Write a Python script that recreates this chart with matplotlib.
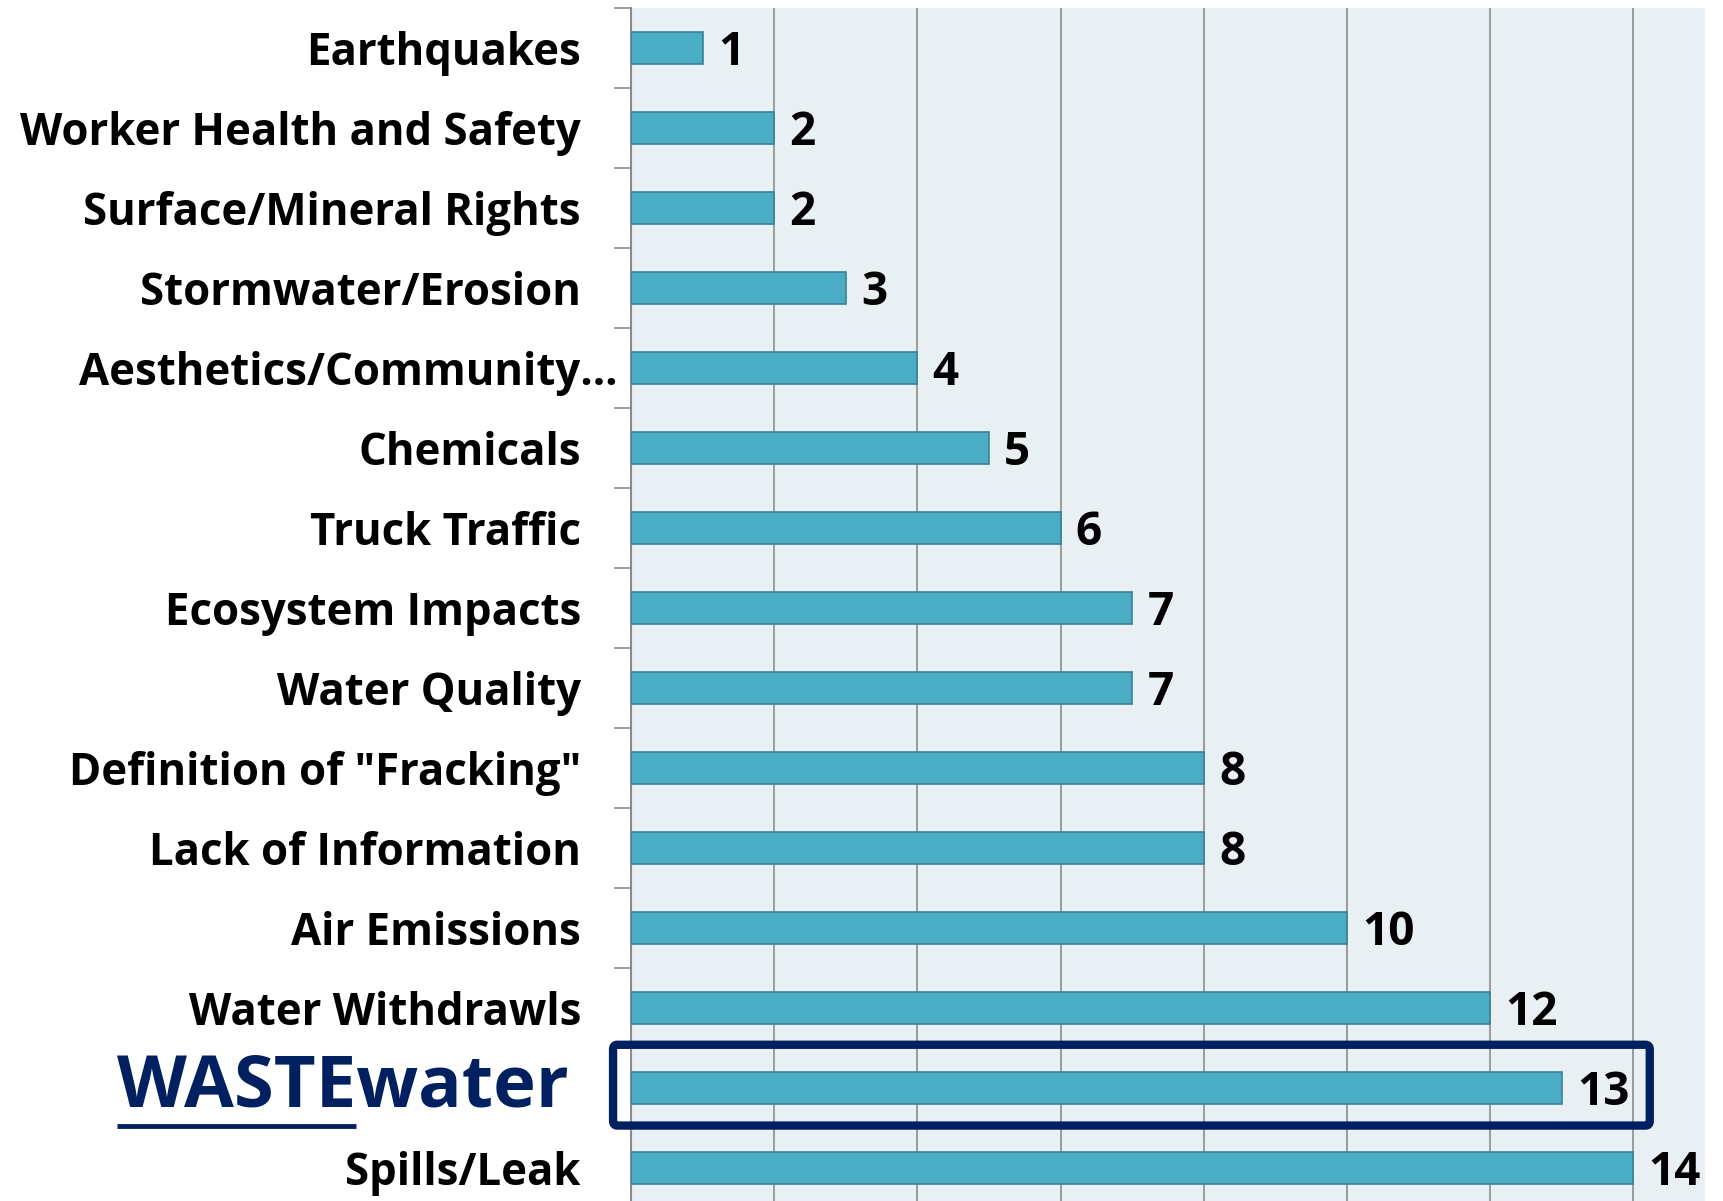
import matplotlib.pyplot as plt
from matplotlib.patches import FancyBboxPatch
from matplotlib.transforms import offset_copy

# data, top of chart first
categories = [
    "Earthquakes",
    "Worker Health and Safety",
    "Surface/Mineral Rights",
    "Stormwater/Erosion",
    "Aesthetics/Community\u2026",
    "Chemicals",
    "Truck Traffic",
    "Ecosystem Impacts",
    "Water Quality",
    'Definition of "Fracking"',
    "Lack of Information",
    "Air Emissions",
    "Water Withdrawls",
    "WASTEwater",
    "Spills/Leak",
]
counts = [1, 2, 2, 3, 4, 5, 6, 7, 7, 8, 8, 10, 12, 13, 14]
highlight = "WASTEwater"

FONT = ["Open Sans", "DejaVu Sans"]
NAVY = "#002060"
BAR = "#4BACC6"
BAR_EDGE = "#3A8197"
GRID = "#8C8C8C"

plt.rcParams["font.family"] = FONT

fig = plt.figure(figsize=(17.23, 12.01), dpi=100)
ax = fig.add_axes([0.3662, -0.0058, 0.6233, 0.99917])
ax.set_facecolor("#E8F0F4")

ypos = list(range(len(categories)))[::-1]
bars = ax.barh(ypos, counts, height=0.41, color=BAR, edgecolor=BAR_EDGE, linewidth=1.2, zorder=3)
vals = ax.bar_label(bars, labels=[str(c) for c in counts], padding=11, fontsize=33,
                    fontweight="bold", color="black")
for t in vals:
    # nudge the numbers down a little, like the original
    t.xyann = (11, -3.5)

ax.set_xlim(0, 15)
ax.set_ylim(-0.5, len(categories) - 0.5)
ax.set_xticks(range(0, 15, 2))
ax.tick_params(axis="x", length=0, labelbottom=False)
ax.grid(axis="x", color=GRID, linewidth=1.2, zorder=1)

ax.set_yticks(ypos)
ax.set_yticklabels([("" if c == highlight else c) for c in categories],
                   fontsize=31.5, fontweight="bold")
ax.tick_params(axis="y", which="major", length=0, pad=36)
ax.set_yticks([i - 0.5 for i in range(len(categories) + 1)], minor=True)
ax.tick_params(axis="y", which="minor", length=12, width=1.2, color=GRID)

for side in ["top", "right", "bottom"]:
    ax.spines[side].set_visible(False)
ax.spines["left"].set_color(GRID)
ax.spines["left"].set_linewidth(1.5)

# the ellipsis hangs past the other labels
for lbl in ax.get_yticklabels():
    if lbl.get_text().endswith("\u2026"):
        lbl.set_transform(offset_copy(lbl.get_transform(), fig=fig, x=37, y=0, units="dots"))

# highlighted category, "WASTE" underlined
hy = ypos[categories.index(highlight)]
ytr = ax.get_yaxis_transform()
word = ax.text(-0.058, hy, "WASTEwater", transform=ytr, ha="right", va="center",
               fontsize=52, fontweight="bold", color=NAVY)
fig.canvas.draw()
renderer = fig.canvas.get_renderer()
wbox = word.get_window_extent(renderer)
probe = fig.text(0, 0, "WASTE", fontsize=52, fontweight="bold")
waste_w = probe.get_window_extent(renderer).width
probe.remove()
inv = ax.transAxes.inverted()
x0 = inv.transform((wbox.x0, 0))[0]
x1 = inv.transform((wbox.x0 + waste_w, 0))[0]
ax.plot([x0, x1], [hy - 0.48, hy - 0.48], transform=ytr,
        color=NAVY, linewidth=3.5, clip_on=False, solid_capstyle="butt")

box = FancyBboxPatch((-0.25, hy - 0.47), 14.48, 1.01, boxstyle="round,pad=0,rounding_size=0.06",
                     fill=False, edgecolor=NAVY, linewidth=6, clip_on=False, zorder=5)
ax.add_patch(box)

fig.savefig("out.png", dpi=100)
